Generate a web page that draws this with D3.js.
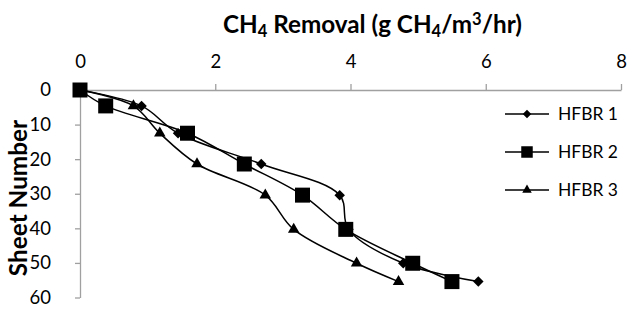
<!DOCTYPE html>
<html>
<head>
<meta charset="utf-8">
<script src="https://cdn.jsdelivr.net/npm/d3@7"></script>
<style>
  body { margin: 0; background: #fff; }
  svg { display: block; font-family: Lato, "Open Sans", sans-serif; }
</style>
</head>
<body>
<svg width="632" height="311"></svg>
<script>
// data
const sheets = [0, 4.6, 12.5, 21.4, 30.4, 40.3, 50.1, 55.4];
const hfbr1 = [0, 0.91, 1.45, 2.68, 3.84, 3.97, 4.78, 5.89];
const hfbr2 = [0, 0.38, 1.59, 2.43, 3.29, 3.93, 4.92, 5.50];
const hfbr3 = [0, 0.79, 1.18, 1.73, 2.74, 3.16, 4.09, 4.71];
const seriesNames = ["HFBR 1", "HFBR 2", "HFBR 3"];
const xTicks = [0, 2, 4, 6, 8];
const yTicks = [0, 10, 20, 30, 40, 50, 60];

const svg = d3.select("svg");
const axisColor = "#a0a0a0";

const x = d3.scaleLinear().domain([0, 8]).range([80, 621]);
const y = d3.scaleLinear().domain([0, 60]).range([90, 297.5]);

// scale a text's font so it spans the wanted width
function fit(sel, width) {
  const w = sel.node().getBBox().width;
  const fs = +sel.attr("font-size");
  sel.attr("font-size", fs * width / w);
}

// title
const title = svg.append("text")
  .attr("x", 223).attr("y", 33)
  .attr("font-weight", "bold")
  .attr("font-size", 23);
title.append("tspan").text("CH");
title.append("tspan").attr("font-size", "0.68em").attr("dy", 4).text("4");
title.append("tspan").attr("dy", -4).text(" Removal (g CH");
title.append("tspan").attr("font-size", "0.68em").attr("dy", 4).text("4");
title.append("tspan").attr("dy", -4).text("/m");
title.append("tspan").attr("font-size", "0.68em").attr("dy", -8).text("3");
title.append("tspan").attr("dy", 8).text("/hr)");
fit(title, 299);

// y label
const ylab = svg.append("text")
  .attr("transform", "translate(27,198) rotate(-90)")
  .attr("text-anchor", "middle")
  .attr("font-weight", "bold")
  .attr("font-size", 20)
  .text("Sheet Number");
fit(ylab, 157);

// axes
const gx = svg.append("g")
  .attr("transform", "translate(0,90)")
  .call(d3.axisTop(x).tickValues(xTicks).tickSize(6).tickSizeOuter(0).tickPadding(16));
const gy = svg.append("g")
  .attr("transform", "translate(80,0)")
  .call(d3.axisLeft(y).tickValues(yTicks).tickSize(5).tickSizeOuter(0).tickPadding(24));
[gx, gy].forEach(g => {
  g.select(".domain").attr("stroke", axisColor).attr("stroke-width", 1.3);
  g.selectAll(".tick line").attr("stroke", axisColor).attr("stroke-width", 1.3);
  g.selectAll(".tick text").attr("fill", "#000").attr("font-size", 18.5)
    .attr("font-family", "Lato, sans-serif");
});

// markers: diamond, square, triangle, w = width in px
function marker(i, w) {
  if (i === 0) return d3.symbol(d3.symbolSquare, w * w / 2)();
  if (i === 1) return d3.symbol(d3.symbolSquare, w * w)();
  return d3.symbol(d3.symbolTriangle, w * w * Math.sqrt(3) / 4)();
}
const sizes = [[10.5, 8.5], [15, 11.5], [11.5, 9.5]];

const series = [hfbr1, hfbr2, hfbr3];
const line = d3.line()
  .x(d => x(d[0]))
  .y(d => y(d[1]))
  .curve(d3.curveCatmullRom.alpha(0.5));

series.forEach((vals, i) => {
  const pts = vals.map((v, j) => [v, sheets[j]]);
  svg.append("path")
    .attr("d", line(pts))
    .attr("fill", "none")
    .attr("stroke", "#000")
    .attr("stroke-width", 1.5);
  svg.append("g").selectAll("path")
    .data(pts)
    .join("path")
    .attr("d", marker(i, sizes[i][0]))
    .attr("transform", d => `translate(${x(d[0])},${y(d[1])})` + (i === 0 ? " rotate(45)" : ""))
    .attr("fill", "#000");
});

// legend
const legendY = [114, 152, 190];
const lg = svg.append("g");
seriesNames.forEach((name, i) => {
  lg.append("line")
    .attr("x1", 505).attr("x2", 549)
    .attr("y1", legendY[i]).attr("y2", legendY[i])
    .attr("stroke", "#000").attr("stroke-width", 1.5);
  lg.append("path")
    .attr("d", marker(i, sizes[i][1]))
    .attr("transform", `translate(527,${legendY[i]})` + (i === 0 ? " rotate(45)" : ""))
    .attr("fill", "#000");
  const t = lg.append("text")
    .attr("x", 558).attr("y", legendY[i])
    .attr("dy", "0.36em")
    .attr("font-size", 17.5)
    .text(name);
  fit(t, 60);
});
</script>
</body>
</html>
